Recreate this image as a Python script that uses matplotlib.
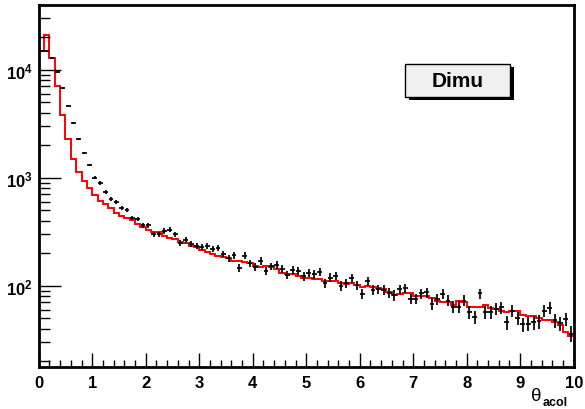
import numpy as np
import matplotlib
matplotlib.use("Agg")
import matplotlib.pyplot as plt
from matplotlib.patches import Rectangle

plt.rcParams['font.family'] = ['Liberation Sans', 'DejaVu Sans']
plt.rcParams['mathtext.fontset'] = 'custom'
plt.rcParams['mathtext.rm'] = 'Liberation Sans'
plt.rcParams['mathtext.bf'] = 'Liberation Sans:bold'

# 100 bins of theta_acol from 0 to 10
bin_edges = np.linspace(0, 10, 101)

# simulation (red histogram)
mc = [15000, 20900, 12800, 7010, 3790, 2280, 1490, 1120, 927, 798,
      696, 612, 567, 524, 474, 442, 424, 406, 372, 352,
      328, 312, 312, 286, 275, 269, 254, 247, 233, 227,
      215, 207, 196, 188, 186, 179, 170, 170, 167, 162,
      153, 148, 153, 148, 143, 131, 128, 128, 124, 119,
      119, 115, 115, 111, 111, 111, 106, 104, 106, 101,
      97, 99, 98, 95, 93, 88, 82, 84, 85, 85,
      81, 81, 80, 77, 73, 70, 70, 66, 73, 70,
      64, 63, 64, 67, 62, 61, 59, 57, 58, 58,
      54, 53, 53, 50, 48, 48, 46, 43, 37, 34.5]

# data (black points)
data = [15000, 14800, 12800, 9460, 6730, 4640, 3210, 2280, 1690, 1310,
        1000, 895, 740, 637, 592, 530, 499, 424, 417, 365,
        365, 299, 299, 321, 330, 299, 248, 265, 242, 232,
        230, 235, 219, 225, 197, 179, 192, 147, 190, 162,
        149, 170, 138, 151, 156, 143, 127, 141, 138, 122,
        131, 128, 135, 106, 119, 124, 100, 105, 118, 101,
        84, 111, 92, 93, 92, 86, 82, 93, 95, 76,
        76, 85, 87, 68, 75, 84, 73, 64, 64, 73,
        57, 51, 85, 57, 57, 61, 63, 46, 59, 50,
        44, 44.5, 46, 47, 58.5, 62.5, 48, 45, 49, 36]

x_ticks = list(range(0, 11))
y_ticks = [100, 1000, 10000]
y_labels = [r'$\mathbf{10^{2}}$', r'$\mathbf{10^{3}}$', r'$\mathbf{10^{4}}$']

fig = plt.figure(figsize=(5.85, 4.10), dpi=100)
ax = fig.add_axes([38.7 / 585, 42 / 410, 535 / 585, 362 / 410])

centers = 0.5 * (bin_edges[:-1] + bin_edges[1:])
ax.stairs(mc, bin_edges, color='red', linewidth=1.4, baseline=None)
ax.errorbar(centers, data, yerr=np.sqrt(data), xerr=0.045, fmt='none',
            ecolor='black', elinewidth=1.25, capsize=0)

ax.set_yscale('log')
ax.set_xlim(0, 10)
ax.set_ylim(17.7, 39700)

ax.set_xticks(x_ticks)
ax.set_xticklabels([str(t) for t in x_ticks], fontsize=12, fontweight='bold')
ax.set_xticks(np.arange(0, 10.01, 0.2), minor=True)
ax.set_yticks(y_ticks)
ax.set_yticklabels(y_labels, fontsize=12)
ax.yaxis.set_minor_locator(matplotlib.ticker.LogLocator(subs=np.arange(2, 10)))
ax.yaxis.set_minor_formatter(matplotlib.ticker.NullFormatter())

ax.tick_params(axis='x', which='major', direction='in', length=10, width=1, pad=6)
ax.tick_params(axis='x', which='minor', direction='in', length=5, width=1)
ax.tick_params(axis='y', which='major', direction='in', length=16, width=1, pad=4)
ax.tick_params(axis='y', which='minor', direction='in', length=8, width=1)
for s in ax.spines.values():
    s.set_linewidth(2)

# axis title
fig.text(531 / 585, 1 - 401 / 410, 'θ', fontsize=13.5, ha='left', va='baseline')
fig.text(543 / 585, 1 - 406 / 410, 'acol', fontsize=9, fontweight='bold',
         ha='left', va='baseline')

# label box with shadow
shadow = Rectangle((409 / 585, 1 - 101 / 410), 105 / 585, 33 / 410,
                   transform=fig.transFigure, facecolor='black', edgecolor='none')
box = Rectangle((405 / 585, 1 - 97.5 / 410), 105 / 585, 33 / 410,
                transform=fig.transFigure, facecolor='#f0f0f0',
                edgecolor='black', linewidth=1)
fig.patches.extend([shadow, box])
fig.text(457.5 / 585, 1 - 82 / 410, 'Dimu', fontsize=15, fontweight='bold',
         ha='center', va='center')

fig.savefig('out.png', dpi=100)
